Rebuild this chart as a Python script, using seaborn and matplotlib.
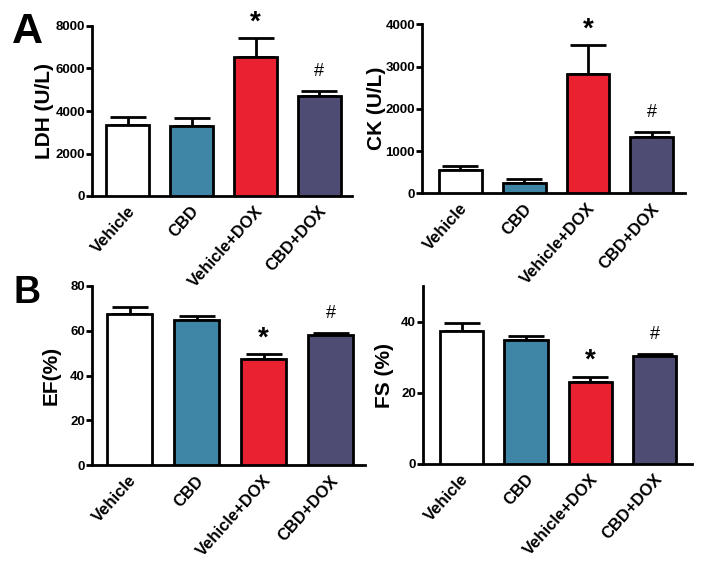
import matplotlib
matplotlib.use("Agg")
import matplotlib.pyplot as plt
import matplotlib.transforms as mtrans
import seaborn as sns
import pandas as pd

groups = ["Vehicle", "CBD", "Vehicle+DOX", "CBD+DOX"]
colors = ["#ffffff", "#3f86a6", "#ea2130", "#4e4c72"]

ldh_mean = [3330, 3300, 6530, 4720]
ldh_err = [390, 380, 920, 240]
ck_mean = [540, 245, 2830, 1340]
ck_err = [115, 95, 680, 120]
ef_mean = [67.5, 64.8, 47.3, 58.1]
ef_err = [3.0, 1.7, 2.4, 1.1]
fs_mean = [37.4, 34.8, 23.1, 30.3]
fs_err = [2.3, 1.2, 1.4, 0.7]

ylabels = ["LDH (U/L)", "CK (U/L)", "EF(%)", "FS (%)"]
ylims = [(0, 8000), (0, 4000), (0, 80), (0, 50)]
yticks = [[0, 2000, 4000, 6000, 8000], [0, 1000, 2000, 3000, 4000],
          [0, 20, 40, 60, 80], [0, 20, 40]]
xlims = [(-0.56, 3.51), (-0.6, 3.52), (-0.56, 3.51), (-0.6, 3.58)]
star_idx = 2
hash_idx = 3

sns.set_style("white")
plt.rcParams["font.family"] = ["Liberation Sans", "DejaVu Sans"]
plt.rcParams["text.color"] = "black"
plt.rcParams["axes.labelcolor"] = "black"
plt.rcParams["xtick.color"] = "black"
plt.rcParams["ytick.color"] = "black"

fig = plt.figure(figsize=(7.04, 5.61), dpi=100)
W, H = 704, 561
boxes = [(92, 352, 26, 196), (422, 685, 24.3, 193.3),
         (92, 365, 286, 465.3), (423, 692, 286, 464)]
label_off = [38, 36, 31, 29]

datasets = [(ldh_mean, ldh_err), (ck_mean, ck_err), (ef_mean, ef_err), (fs_mean, fs_err)]

for i, ((m, e), (l, r, t, b)) in enumerate(zip(datasets, boxes)):
    ax = fig.add_axes([l / W, 1 - b / H, (r - l) / W, (b - t) / H])
    df = pd.DataFrame({"group": groups, "value": m})
    sns.barplot(data=df, x="group", y="value", hue="group", palette=colors,
                order=groups, hue_order=groups, legend=False, saturation=1,
                edgecolor="black", linewidth=2, width=0.67, ax=ax,
                errorbar=None, zorder=3)
    ax.errorbar(range(len(groups)), m, yerr=[[0] * 4, e], fmt="none",
                ecolor="black", elinewidth=2, capsize=13, capthick=2, zorder=2)
    ax.set_ylim(*ylims[i])
    ax.set_xlim(*xlims[i])
    ax.set_yticks(yticks[i])
    ax.set_xlabel("")
    ax.set_ylabel(ylabels[i], fontsize=15, fontweight="bold")
    ax.yaxis.set_label_coords(-label_off[i] / (r - l), 0.5)
    for sp in ["top", "right"]:
        ax.spines[sp].set_visible(False)
    for sp in ["left", "bottom"]:
        ax.spines[sp].set_linewidth(2)
        ax.spines[sp].set_color("black")
    ax.tick_params(axis="y", left=True, length=4, width=2, labelsize=9.5, pad=1)
    ax.tick_params(axis="x", bottom=False, labelsize=12, pad=2)
    for lab in ax.get_yticklabels():
        lab.set_fontweight("bold")
    ax.set_xticks(range(len(groups)))
    ax.set_xticklabels(groups, rotation=48, ha="right", rotation_mode="anchor",
                       fontweight="bold")
    off = mtrans.ScaledTranslation(-1 / 100, 0, fig.dpi_scale_trans)
    for lab in ax.get_xticklabels():
        lab.set_transform(lab.get_transform() + off)
    span = ylims[i][1] - ylims[i][0]
    ax.text(star_idx, m[star_idx] + e[star_idx] + span * 0.015, "*",
            ha="center", va="bottom", fontsize=20, fontweight="bold")
    ax.text(hash_idx, m[hash_idx] + e[hash_idx] + span * 0.06, "#",
            ha="center", va="bottom", fontsize=13)

fig.text(12 / W, 1 - 43 / H, "A", fontsize=31, fontweight="bold", va="baseline")
fig.text(14 / W, 1 - 303 / H, "B", fontsize=27, fontweight="bold", va="baseline")

fig.savefig("out.png", dpi=100, facecolor="white")
